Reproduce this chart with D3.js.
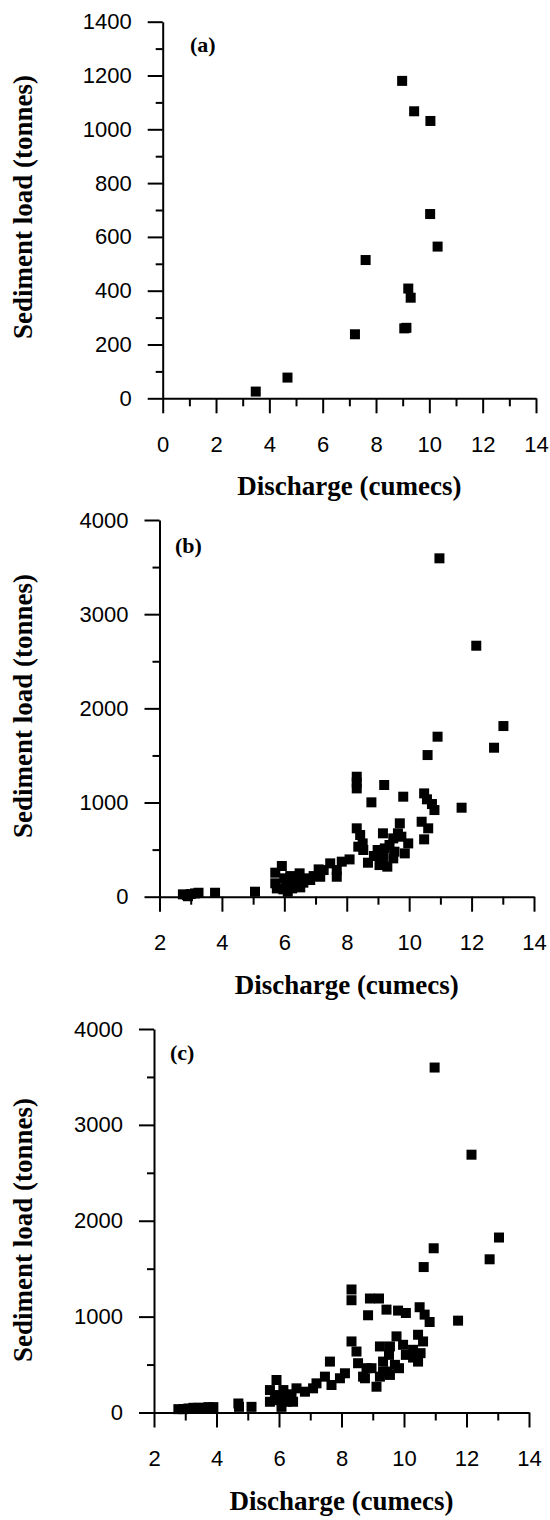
<!DOCTYPE html>
<html>
<head>
<meta charset="utf-8">
<script src="https://cdn.jsdelivr.net/npm/d3@7"></script>
<style>
  body { margin: 0; background: #fff; }
  svg { display: block; }
  .tick text { font-family: "Liberation Sans", Arial, sans-serif; font-size: 22px; fill: #000; }
  .tick line, .domain { stroke: #000; stroke-width: 2; }
  .axis-title, .panel-label { font-family: "Liberation Serif", "Times New Roman", serif; font-weight: bold; fill: #000; }
</style>
</head>
<body>
<svg id="chart" width="550" height="1520"></svg>
<script>
// panel (a)
const dischargeA = [3.49, 4.68, 7.21, 7.61, 8.98, 9.43, 10.04, 10.03, 10.31, 9.21, 9.30, 9.06, 9.14];
const sedimentA  = [25, 77, 238, 514, 1180, 1067, 1031, 685, 564, 408, 374, 260, 262];

// panel (b)
const dischargeB = [10.97, 12.15, 13.02, 12.72, 10.91, 10.59, 11.68, 8.32, 8.32, 8.32,
  9.20, 8.79, 9.81, 10.48, 10.57, 10.73, 10.81, 10.40, 10.61, 10.48,
  9.70, 9.64, 9.49, 9.97, 9.86, 9.16, 9.22, 9.16, 9.30, 9.49,
  8.99, 8.87, 8.68, 8.32, 8.43, 8.51, 8.53, 8.09, 7.84, 7.68,
  7.68, 7.47, 7.26, 7.10, 7.15, 6.94, 6.72, 6.49, 6.40, 6.19,
  5.92, 5.71, 5.71, 5.76, 5.97, 6.06, 6.25, 6.11, 6.51, 6.61,
  6.40, 5.06, 3.78, 2.75, 2.88, 3.00, 3.14, 3.25, 2.91, 9.37,
  9.53, 9.16, 9.75, 9.05, 8.37, 6.28, 6.00, 6.83];
const sedimentB = [3593, 2665, 1812, 1582, 1699, 1504, 945, 1274, 1211, 1150,
  1186, 1002, 1062, 1097, 1034, 984, 920, 796, 726, 609,
  779, 673, 619, 566, 460, 673, 513, 460, 319, 407,
  496, 432, 361, 726, 655, 566, 496, 396, 372, 283,
  212, 354, 283, 290, 212, 219, 195, 248, 177, 219,
  326, 255, 142, 88, 78, 142, 88, 53, 99, 149,
  124, 53, 42, 25, 18, 28, 35, 42, 5, 549,
  478, 389, 637, 336, 531, 177, 195, 177];

// panel (c)
const dischargeC = [10.98, 12.16, 13.04, 12.74, 10.95, 10.63, 11.73, 8.32, 8.32, 8.85,
  8.91, 9.20, 9.44, 9.81, 10.06, 10.50, 10.66, 10.82, 10.45, 10.61,
  10.53, 10.29, 10.06, 9.76, 9.97, 9.84, 9.52, 9.23, 9.33, 9.44,
  9.12, 8.96, 8.69, 8.53, 8.48, 8.32, 8.11, 7.95, 7.63, 7.68,
  7.47, 7.20, 7.09, 6.83, 6.56, 6.40, 6.14, 5.92, 5.71, 5.71,
  5.87, 6.08, 6.24, 6.45, 5.92, 5.12, 4.70, 4.72, 2.78, 2.94,
  3.10, 3.26, 3.42, 3.58, 3.74, 3.90, 9.55, 9.33, 9.23, 9.55,
  9.71, 8.80, 8.75, 10.29, 10.45, 6.00, 6.30];
const sedimentC = [3598, 2689, 1825, 1598, 1713, 1517, 958, 1283, 1171, 1014,
  1189, 1189, 1073, 1063, 1038, 1098, 1021, 944, 811, 741,
  619, 573, 601, 794, 706, 462, 601, 689, 531, 427,
  269, 462, 374, 514, 636, 741, 409, 357, 531, 287,
  374, 304, 252, 217, 252, 164, 234, 339, 234, 112,
  129, 59, 112, 112, 182, 59, 94, 59, 35, 35,
  42, 49, 49, 49, 56, 56, 689, 427, 374, 392,
  497, 462, 357, 654, 531, 150, 190];

const xTicksA = [0, 2, 4, 6, 8, 10, 12, 14];
const xMinorA = [1, 3, 5, 7, 9, 11, 13];
const yTicksA = [0, 200, 400, 600, 800, 1000, 1200, 1400];
const yMinorA = [100, 300, 500, 700, 900, 1100, 1300];

const xTicksBC = [2, 4, 6, 8, 10, 12, 14];
const xMinorBC = [3, 5, 7, 9, 11, 13];
const yTicksBC = [0, 1000, 2000, 3000, 4000];
const yMinorBC = [500, 1500, 2500, 3500];

const xTitle = 'Discharge (cumecs)';
const yTitle = 'Sediment load (tonnes)';

const svg = d3.select('#chart');

const panels = [
  { label: '(a)', discharge: dischargeA, sediment: sedimentA,
    xDomain: [0, 14], yDomain: [0, 1400],
    xTicks: xTicksA, xMinor: xMinorA, yTicks: yTicksA, yMinor: yMinorA,
    left: 162.7, right: 536, top: 21.7, bottom: 398.3,
    labelX: 190, labelY: 52, yTitleY: 207 },
  { label: '(b)', discharge: dischargeB, sediment: sedimentB,
    xDomain: [2, 14], yDomain: [0, 4000],
    xTicks: xTicksBC, xMinor: xMinorBC, yTicks: yTicksBC, yMinor: yMinorBC,
    left: 159.5, right: 534, top: 520, bottom: 896.7,
    labelX: 175, labelY: 553, yTitleY: 706 },
  { label: '(c)', discharge: dischargeC, sediment: sedimentC,
    xDomain: [2, 14], yDomain: [0, 4000],
    xTicks: xTicksBC, xMinor: xMinorBC, yTicks: yTicksBC, yMinor: yMinorBC,
    left: 154, right: 529, top: 1029, bottom: 1412.5,
    labelX: 170, labelY: 1060, yTitleY: 1230 },
];

const MARKER = 10;

function drawPanel(p) {
  const x = d3.scaleLinear().domain(p.xDomain).range([p.left, p.right]);
  const y = d3.scaleLinear().domain(p.yDomain).range([p.bottom, p.top]);
  const g = svg.append('g');

  // minor ticks, no labels
  g.append('g')
    .attr('transform', `translate(0,${p.bottom})`)
    .call(d3.axisBottom(x).tickValues(p.xMinor).tickSize(8).tickFormat(''))
    .call(a => a.select('.domain').remove());
  g.append('g')
    .attr('transform', `translate(${p.left},0)`)
    .call(d3.axisLeft(y).tickValues(p.yMinor).tickSize(7).tickFormat(''))
    .call(a => a.select('.domain').remove());

  g.append('g')
    .attr('transform', `translate(0,${p.bottom})`)
    .call(d3.axisBottom(x).tickValues(p.xTicks).tickSize(15).tickSizeOuter(0).tickPadding(23).tickFormat(d3.format('d')));
  g.append('g')
    .attr('transform', `translate(${p.left},0)`)
    .call(d3.axisLeft(y).tickValues(p.yTicks).tickSize(15).tickSizeOuter(0).tickPadding(16).tickFormat(d3.format('d')));

  g.selectAll('.tick text').attr('fill', '#000');

  const points = p.discharge.map((d, i) => ({ q: d, s: p.sediment[i] }));
  g.append('g')
    .selectAll('rect')
    .data(points)
    .join('rect')
    .attr('x', d => x(d.q) - MARKER / 2)
    .attr('y', d => y(d.s) - MARKER / 2)
    .attr('width', MARKER)
    .attr('height', MARKER)
    .attr('fill', '#000');

  g.append('text')
    .attr('class', 'panel-label')
    .attr('x', p.labelX)
    .attr('y', p.labelY)
    .attr('font-size', 22)
    .text(p.label);

  g.append('text')
    .attr('class', 'axis-title')
    .attr('x', (p.left + p.right) / 2)
    .attr('y', p.bottom + 97)
    .attr('text-anchor', 'middle')
    .attr('font-size', 27)
    .text(xTitle);

  g.append('text')
    .attr('class', 'axis-title')
    .attr('transform', `translate(32,${p.yTitleY}) rotate(-90)`)
    .attr('text-anchor', 'middle')
    .attr('font-size', 27)
    .text(yTitle);
}

panels.forEach(drawPanel);
</script>
</body>
</html>
